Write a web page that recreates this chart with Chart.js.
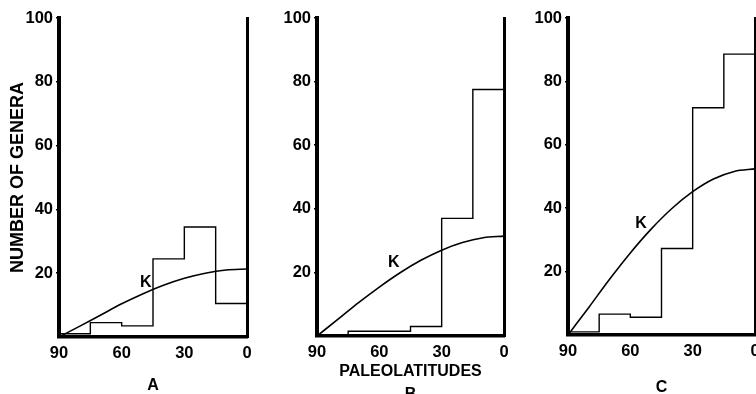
<!DOCTYPE html>
<html>
<head>
<meta charset="utf-8">
<script src="https://cdn.jsdelivr.net/npm/chart.js@4.4.1/dist/chart.umd.min.js"></script>
<style>
  html, body { margin: 0; padding: 0; background: #fff; overflow: hidden; width: 756px; height: 394px; }
  canvas { position: absolute; top: 0; }
</style>
</head>
<body>
<canvas id="chartA" width="260" height="410" style="left:0px"></canvas>
<canvas id="chartB" width="260" height="410" style="left:260px"></canvas>
<canvas id="chartC" width="250" height="410" style="left:520px"></canvas>
<script>
// paleolatitude bins (degrees), left edge of each bin first
const binEdges = [90, 75, 60, 45, 30, 15, 0];
const countsA = [1, 4.5, 3.5, 24.5, 34.5, 10.5];
const countsB = [0, 1.5, 1.5, 3, 37, 77.5];
const countsC = [1, 6.6, 5.6, 27.3, 71.7, 88.6];

// curve K
const kLats = [90, 80, 70, 60, 50, 40, 30, 20, 10, 0];
const kA = [0, 3.4, 6.9, 10.4, 13.5, 16.2, 18.4, 20.0, 21.0, 21.3];
const kB = [0, 5.2, 10.5, 15.4, 19.9, 23.8, 27.0, 29.4, 30.9, 31.4];
const kC = [0, 8.7, 17.6, 25.9, 33.4, 39.9, 45.2, 49.2, 51.6, 52.4];

const yTicks = [20, 40, 60, 80, 100];
const xTicks = [90, 60, 30, 0];

const FONT = '"Liberation Sans Narrow", "Liberation Sans", Arial, sans-serif';

function histPoints(counts) {
    const last = binEdges.length - 1;
    const pts = [{x: binEdges[0], y: 0}];
    counts.forEach((c, i) => pts.push({x: binEdges[i], y: c}));
    pts.push({x: binEdges[last], y: counts[counts.length - 1]});
    pts.push({x: binEdges[last], y: 0});
    return pts;
}

function curvePoints(vals) {
    return kLats.map((lat, i) => ({x: lat, y: vals[i]}));
}

const kLabel = {
    id: 'kLabel',
    afterDatasetsDraw(chart) {
        const pos = chart.options.plugins.kLabel;
        const ctx = chart.ctx;
        ctx.save();
        ctx.font = 'bold 16px ' + FONT;
        ctx.fillStyle = '#000';
        ctx.textAlign = 'center';
        ctx.textBaseline = 'middle';
        ctx.fillText('K', chart.scales.x.getPixelForValue(pos.lat), chart.scales.y.getPixelForValue(pos.val));
        ctx.restore();
    }
};

function makePanel(id, counts, kVals, opt) {
    return new Chart(document.getElementById(id), {
        type: 'line',
        data: {
            datasets: [{
                data: histPoints(counts),
                stepped: 'before',
                borderColor: '#000',
                borderWidth: 1.4,
                pointRadius: 0,
                fill: false
            }, {
                data: curvePoints(kVals),
                cubicInterpolationMode: 'monotone',
                borderColor: '#000',
                borderWidth: 1.6,
                pointRadius: 0,
                fill: false
            }]
        },
        options: {
            responsive: false,
            animation: false,
            events: [],
            layout: { padding: { left: 0, top: 18, right: opt.padRight, bottom: 0 } },
            plugins: {
                legend: { display: false },
                tooltip: { enabled: false },
                kLabel: opt.k
            },
            scales: {
                x: {
                    type: 'linear',
                    min: 0,
                    max: 90,
                    reverse: true,
                    afterBuildTicks: s => { s.ticks = xTicks.map(v => ({value: v})); },
                    afterFit: s => { s.height = 410 - opt.bottom; },
                    grid: { display: false },
                    border: { display: true, color: '#000', width: 3.5 },
                    ticks: {
                        color: '#000',
                        padding: -1,
                        maxRotation: 0,
                        font: { family: FONT, size: 16.5, weight: 'bold' }
                    },
                    title: {
                        display: true,
                        text: opt.xTitle,
                        color: '#000',
                        font: { family: '"Liberation Sans", Arial, sans-serif', size: 16, weight: 'bold', lineHeight: opt.titleLH },
                        padding: { top: 0, bottom: opt.titlePad }
                    }
                },
                y: {
                    min: 0,
                    max: 100,
                    afterBuildTicks: s => { s.ticks = yTicks.map(v => ({value: v})); },
                    afterFit: s => { s.width = opt.yWidth; },
                    grid: { display: true, drawOnChartArea: false, drawTicks: true, tickLength: 3, color: '#000', lineWidth: 1.5 },
                    border: { display: true, color: '#000', width: 4 },
                    ticks: {
                        color: '#000',
                        padding: 3,
                        font: { family: FONT, size: 16.5, weight: 'bold' }
                    },
                    title: {
                        display: opt.yTitle !== '',
                        text: opt.yTitle,
                        color: '#000',
                        font: { family: '"Liberation Sans", Arial, sans-serif', size: 18, weight: 'bold' },
                        padding: { top: 7, bottom: 0 }
                    }
                },
                yR: {
                    position: 'right',
                    min: 0,
                    max: 100,
                    afterFit: s => { s.width = 0; },
                    grid: { display: false },
                    ticks: { display: false },
                    border: { display: true, color: '#000', width: 3 }
                }
            }
        },
        plugins: [kLabel]
    });
}

makePanel('chartA', countsA, kA, {
    padRight: 13, yWidth: 59, bottom: 337,
    xTitle: 'A', titleLH: 1.2, titlePad: 15,
    yTitle: 'NUMBER OF GENERA',
    k: { lat: 48.5, val: 17 }
});
makePanel('chartB', countsB, kB, {
    padRight: 16, yWidth: 57, bottom: 336,
    xTitle: ['PALEOLATITUDES', 'B'], titleLH: 1.44, titlePad: 3.5,
    yTitle: '',
    k: { lat: 53, val: 23 }
});
makePanel('chartC', countsC, kC, {
    padRight: 15, yWidth: 48, bottom: 335,
    xTitle: 'C', titleLH: 1.2, titlePad: 13,
    yTitle: '',
    k: { lat: 54.8, val: 35 }
});
</script>
</body>
</html>
